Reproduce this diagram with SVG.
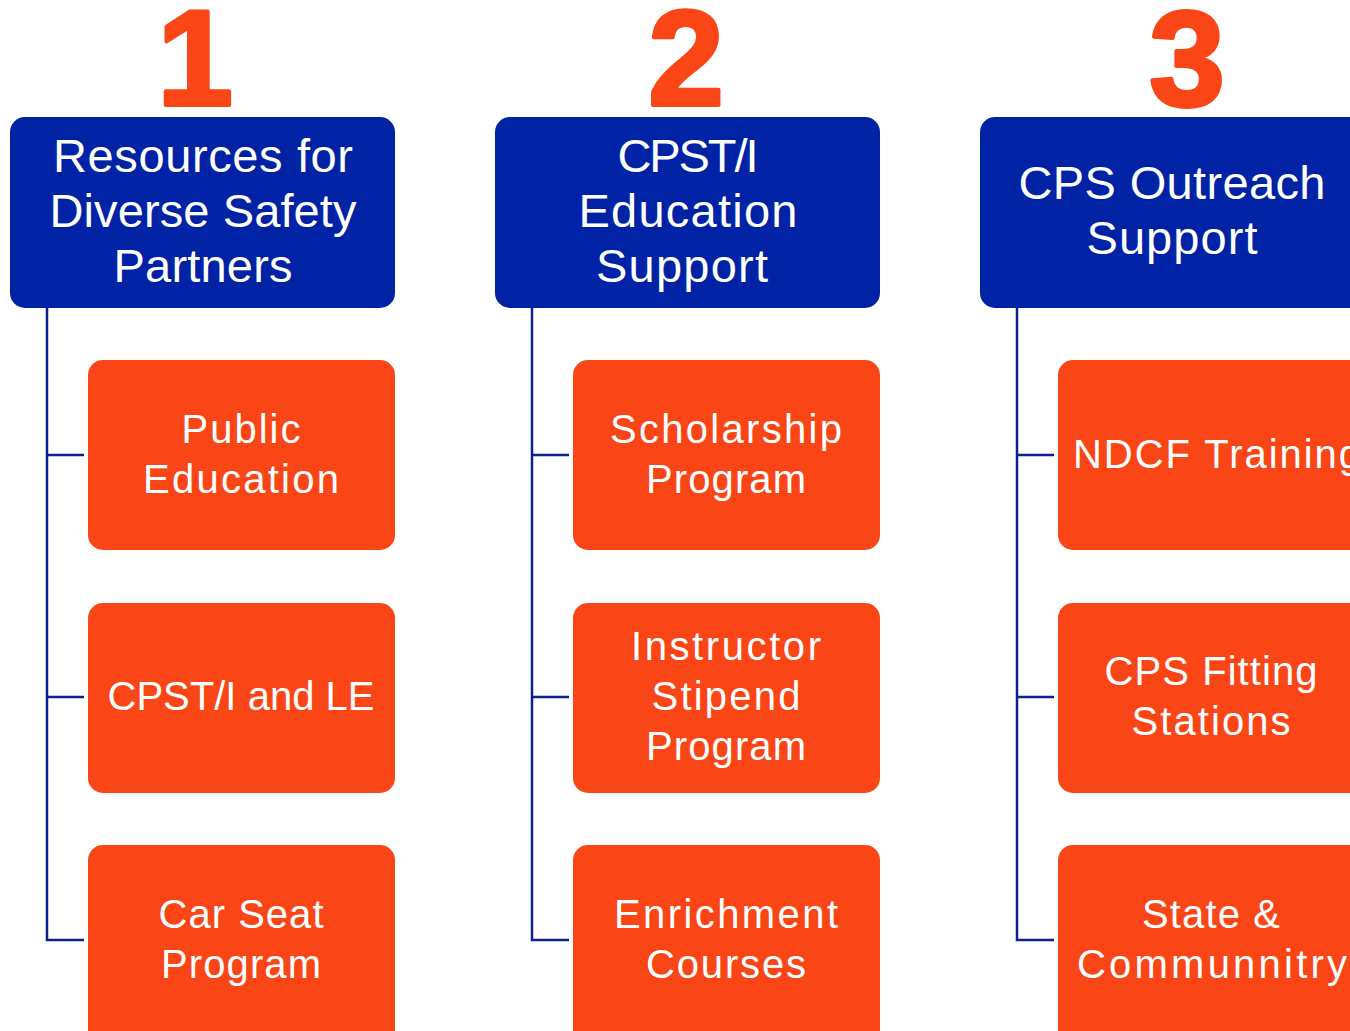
<svg xmlns="http://www.w3.org/2000/svg" width="1350" height="1031" viewBox="0 0 1350 1031">
<style>
.hdr{fill:#0023a5}
.chd{fill:#fa4616}
.num{font-family:"Liberation Sans",Arial,sans-serif;font-weight:bold;font-size:136px;fill:#fa4616;stroke:#fa4616;stroke-width:4;stroke-linejoin:round;text-anchor:middle}
.ht{font-family:"Liberation Sans",Arial,sans-serif;font-size:47px;fill:#ffffff;text-anchor:middle}
.ct{font-family:"Liberation Sans",Arial,sans-serif;font-size:40px;fill:#ffffff;text-anchor:middle}
.con{fill:none;stroke:#0a2191;stroke-width:2.5}
</style>
<rect width="1350" height="1031" fill="#ffffff"/>
<g id="numbers">
<text class="num" x="195" y="105">1</text>
<text class="num" x="686" y="105">2</text>
<text class="num" x="1187" y="105">3</text>
</g>
<g id="connectors">
<path class="con" d="M47 308 V940 H84 M47 455 H84 M47 697 H84"/>
<path class="con" d="M532 308 V940 H569 M532 455 H569 M532 697 H569"/>
<path class="con" d="M1017 308 V940 H1054 M1017 455 H1054 M1017 697 H1054"/>
</g>
<g id="h1"><rect class="hdr" x="10" y="117" width="385" height="191" rx="15"/>
<text class="ht" x="203" y="172" textLength="300">Resources for</text><text class="ht" x="203" y="227" textLength="307">Diverse Safety</text><text class="ht" x="203" y="282" textLength="179">Partners</text></g>
<g id="h2"><rect class="hdr" x="495" y="117" width="385" height="191" rx="15"/>
<text class="ht" x="688" y="172" textLength="141">CPST/I</text><text class="ht" x="688" y="227" textLength="219">Education</text><text class="ht" x="682" y="282" textLength="172">Support</text></g>
<g id="h3"><rect class="hdr" x="980" y="117" width="385" height="191" rx="15"/>
<text class="ht" x="1172" y="199" textLength="307">CPS Outreach</text><text class="ht" x="1172" y="254" textLength="171">Support</text></g>
<g id="c11"><rect class="chd" x="88" y="360" width="307" height="190" rx="15"/>
<text class="ct" x="241" y="443" textLength="119">Public</text><text class="ct" x="241" y="493" textLength="196">Education</text></g>
<g id="c12"><rect class="chd" x="88" y="603" width="307" height="190" rx="15"/>
<text class="ct" x="241" y="710" textLength="267">CPST/I and LE</text></g>
<g id="c13"><rect class="chd" x="88" y="845" width="307" height="200" rx="15"/>
<text class="ct" x="241" y="928" textLength="165">Car Seat</text><text class="ct" x="241" y="978" textLength="160">Program</text></g>
<g id="c21"><rect class="chd" x="573" y="360" width="307" height="190" rx="15"/>
<text class="ct" x="726" y="443" textLength="232">Scholarship</text><text class="ct" x="726" y="493" textLength="160">Program</text></g>
<g id="c22"><rect class="chd" x="573" y="603" width="307" height="190" rx="15"/>
<text class="ct" x="726" y="660" textLength="190">Instructor</text><text class="ct" x="726" y="710" textLength="149">Stipend</text><text class="ct" x="726" y="760" textLength="160">Program</text></g>
<g id="c23"><rect class="chd" x="573" y="845" width="307" height="200" rx="15"/>
<text class="ct" x="726" y="928" textLength="224">Enrichment</text><text class="ct" x="726" y="978" textLength="160">Courses</text></g>
<g id="c31"><rect class="chd" x="1058" y="360" width="307" height="190" rx="15"/>
<text class="ct" x="1073" y="468" style="text-anchor:start" textLength="288">NDCF Training</text></g>
<g id="c32"><rect class="chd" x="1058" y="603" width="307" height="190" rx="15"/>
<text class="ct" x="1211" y="685" textLength="213">CPS Fitting</text><text class="ct" x="1211" y="735" textLength="159">Stations</text></g>
<g id="c33"><rect class="chd" x="1058" y="845" width="307" height="200" rx="15"/>
<text class="ct" x="1211" y="928" textLength="138">State &amp;</text><text class="ct" x="1212" y="978" textLength="270">Communnitry</text></g>
</svg>
